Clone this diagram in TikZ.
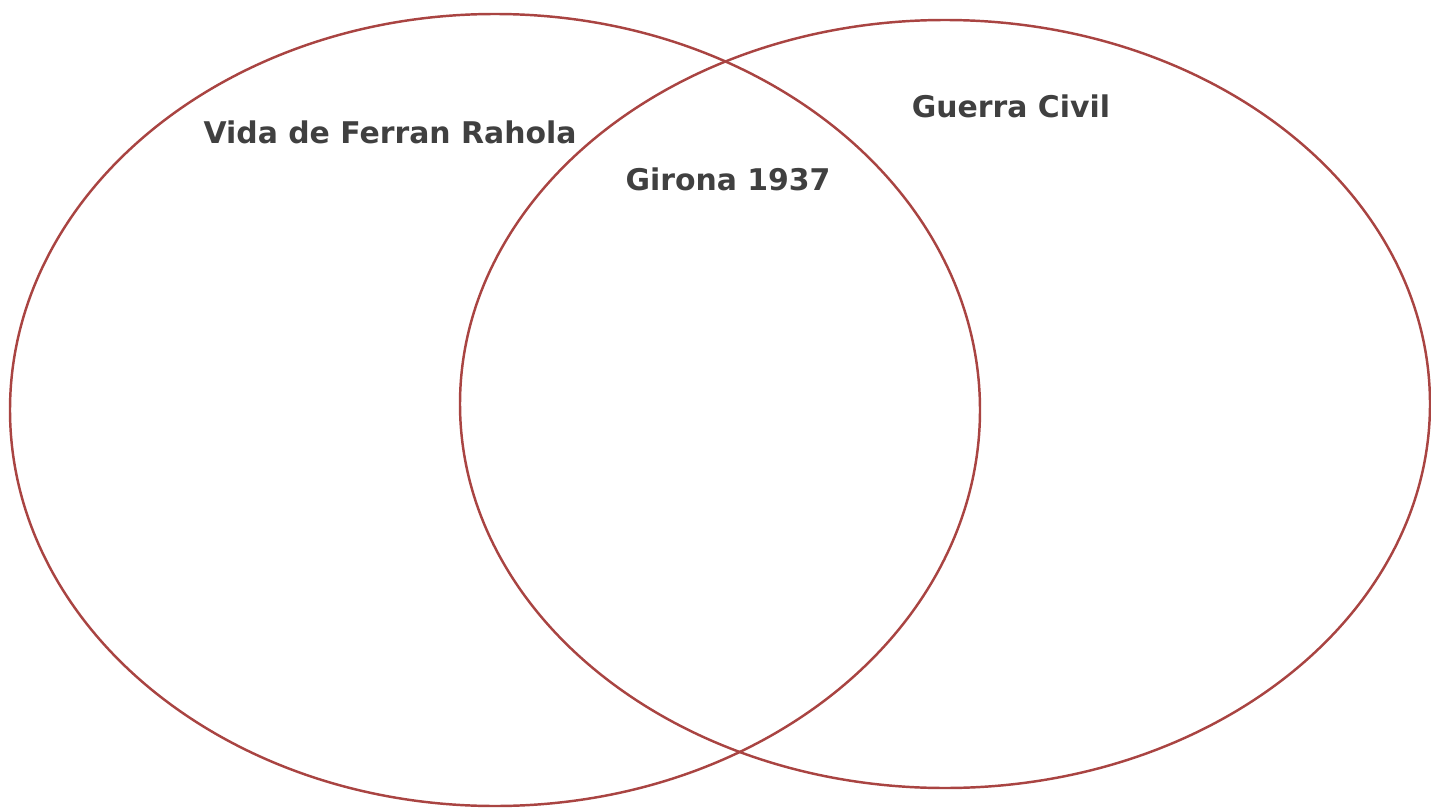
\documentclass[tikz,border=0pt]{standalone}
\usepackage{fontspec}
\setmainfont{DejaVu Sans}
\usetikzlibrary{positioning}

\definecolor{setred}{HTML}{A94442}
\definecolor{labelgray}{HTML}{404040}

\begin{document}
\begin{tikzpicture}[
    x=0.02cm, y=-0.02cm,
    setring/.style={draw=setred, line width=1.4pt},
    setlabel/.style={anchor=base, font=\fontsize{17}{20}\selectfont\bfseries, text=labelgray},
]
\useasboundingbox (0,0) rectangle (1431,808);

% the two sets
\draw[setring] (495,410) ellipse [x radius=485, y radius=396];
\draw[setring] (945,404) ellipse [x radius=485, y radius=384];

% labels
\node[setlabel] (vida) at (390,143) {Vida de Ferran Rahola};
\node[setlabel] (girona) at (728,190) {Girona 1937};
\node[setlabel] (guerra) at (1011,117) {Guerra Civil};

\end{tikzpicture}
\end{document}
